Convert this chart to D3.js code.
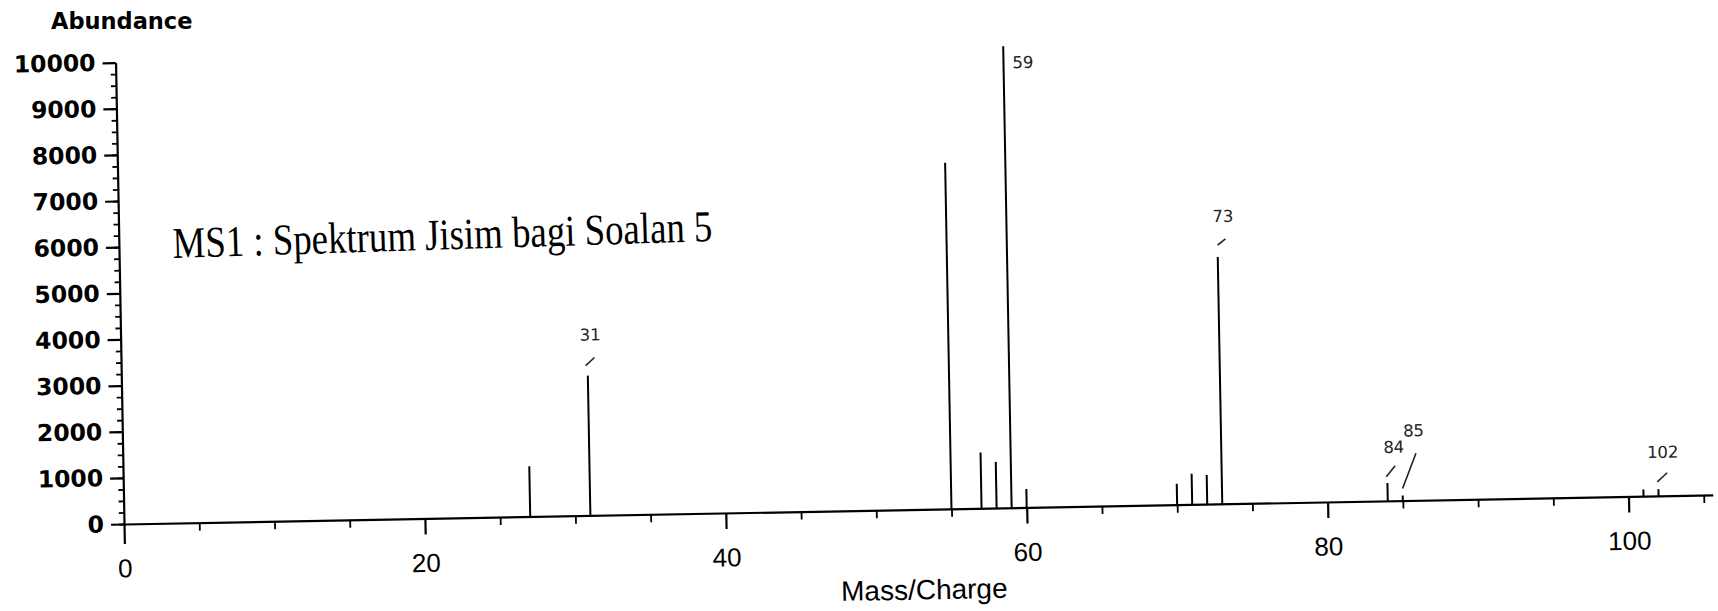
<!DOCTYPE html>
<html>
<head>
<meta charset="utf-8">
<script src="https://cdn.jsdelivr.net/npm/d3@7"></script>
<style>
  body { margin: 0; background: #fff; }
  svg { display: block; }
</style>
</head>
<body>
<div id="chart-area"></div>
<script>
// Peaks
const massCharge = [27, 31, 55, 57, 58, 59, 60, 70, 71, 72, 73, 84, 85, 101, 102];
const abundance = [1090, 3030, 7500, 1210, 1000, 10000, 400, 455, 665, 630, 5350, 385, 110, 145, 145];
const labelledPeaks = [31, 59, 73, 84, 85, 102];

// Axis ticks
const yTickValues = [0, 1000, 2000, 3000, 4000, 5000, 6000, 7000, 8000, 9000, 10000];
const xTickValues = [0, 20, 40, 60, 80, 100];

const W = 1718, H = 611;
const origin = { x: 124, y: 524 };
const width = 1589;   // 0 .. 105.6 on the x scale
const height = 461.5; // 0 .. 10000
const tilt = -1.05;   // the scan is slightly rotated

const peaks = massCharge.map((m, i) => ({ mass: m, ab: abundance[i] }));

const svg = d3.select('#chart-area')
    .append('svg')
    .attr('width', W)
    .attr('height', H);

svg.append('rect').attr('width', W).attr('height', H).attr('fill', '#fff');

// plot group, baseline at y = 0
const g = svg.append('g')
    .attr('transform', 'translate(' + origin.x + ',' + origin.y + ') rotate(' + tilt + ')');

const x = d3.scaleLinear().domain([0, 105.6]).range([0, width]);
const y = d3.scaleLinear().domain([0, 10000]).range([0, -height]);

// Y axis: minor ticks then major ticks with labels
g.append('g')
    .attr('class', 'y-minor')
    .call(d3.axisLeft(y).tickValues(d3.range(0, 10001, 250)).tickSize(5).tickFormat(''))
    .call(a => a.select('.domain').remove());

const yAxis = g.append('g')
    .attr('class', 'y-axis')
    .call(d3.axisLeft(y).tickValues(yTickValues).tickSize(13).tickSizeOuter(0)
        .tickPadding(7).tickFormat(d3.format('d')));
yAxis.selectAll('text')
    .attr('font-family', 'DejaVu Sans')
    .attr('font-weight', 'bold')
    .attr('font-size', '23.5px')
    .attr('fill', '#000');

// X axis: minor ticks every 5, major every 20
g.append('g')
    .attr('class', 'x-minor')
    .call(d3.axisBottom(x).tickValues(d3.range(5, 106, 5).filter(d => d % 20 !== 0)).tickSize(8).tickFormat(''))
    .call(a => a.select('.domain').remove());

const xAxis = g.append('g')
    .attr('class', 'x-axis')
    .call(d3.axisBottom(x).tickValues(xTickValues).tickSize(16).tickSizeOuter(0)
        .tickPadding(19).tickFormat(d3.format('d')));
xAxis.selectAll('text')
    .attr('font-family', 'Liberation Sans')
    .attr('font-size', '26px')
    .attr('fill', '#000');
// y axis runs a little below the baseline at 0
xAxis.selectAll('.tick line').filter(d => d === 0).attr('y2', 20);

g.selectAll('.domain, .tick line')
    .attr('stroke', '#000')
    .attr('stroke-width', 2.2);
g.selectAll('.y-minor .tick line, .x-minor .tick line').attr('stroke-width', 1.8);

// peaks
g.selectAll('line.peak')
    .data(peaks)
    .enter()
    .append('line')
    .attr('class', 'peak')
    .attr('x1', d => x(d.mass))
    .attr('x2', d => x(d.mass))
    .attr('y1', 0)
    .attr('y2', d => y(d.ab))
    .attr('stroke', '#000')
    .attr('stroke-width', 2);

// peak labels and their small pointer strokes
const labelStyle = {
    31:  { tx: 3,  ty: -35, from: [-2, -10], to: [7, -18], top: true },
    59:  { tx: 9,  ty: 22,  anchor: 'start', top: true },
    73:  { tx: 6,  ty: -35, from: [0, -12], to: [8, -18], top: true },
    84:  { tx: 7,  ty: -48, from: [-1, -24], to: [8, -35] },
    85:  { tx: 12, ty: -64, from: [0, -12], to: [14, -47] },
    102: { tx: 5,  ty: -38, from: [-1, -14], to: [9, -23] }
};

const labelled = peaks.filter(d => labelledPeaks.includes(d.mass));

labelled.forEach(d => {
    const s = labelStyle[d.mass];
    const px = x(d.mass);
    const py = s.top ? y(d.ab) : 0;
    g.append('text')
        .attr('x', px + s.tx)
        .attr('y', py + s.ty)
        .attr('text-anchor', s.anchor || 'middle')
        .attr('font-family', 'DejaVu Sans')
        .attr('font-size', '16.5px')
        .attr('fill', '#222')
        .text(d.mass);
    if (s.from) {
        g.append('line')
            .attr('x1', px + s.from[0])
            .attr('y1', py + s.from[1])
            .attr('x2', px + s.to[0])
            .attr('y2', py + s.to[1])
            .attr('stroke', '#222')
            .attr('stroke-width', 1.6);
    }
});

// X axis title
g.append('text')
    .attr('x', x(53.1))
    .attr('y', 90)
    .attr('text-anchor', 'middle')
    .attr('font-family', 'Liberation Sans')
    .attr('font-size', '28px')
    .attr('fill', '#000')
    .text('Mass/Charge');

// Y axis title
svg.append('text')
    .attr('x', 51)
    .attr('y', 29)
    .attr('font-family', 'DejaVu Sans')
    .attr('font-weight', 'bold')
    .attr('font-size', '22.5px')
    .attr('fill', '#000')
    .text('Abundance');

// Caption typed on the sheet
svg.append('text')
    .attr('x', 173)
    .attr('y', 258)
    .attr('transform', 'rotate(-1.8, 173, 258)')
    .attr('font-family', 'Liberation Serif')
    .attr('font-size', '44px')
    .attr('textLength', 540)
    .attr('lengthAdjust', 'spacingAndGlyphs')
    .attr('fill', '#000')
    .text('MS1 : Spektrum Jisim bagi Soalan 5');
</script>
</body>
</html>
